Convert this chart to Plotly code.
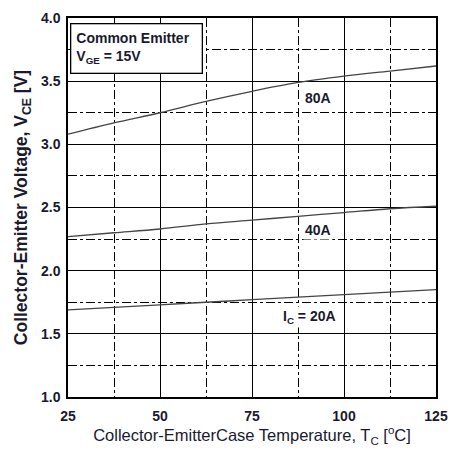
import plotly.graph_objects as go

temps = [25, 37.5, 50, 62.5, 75, 87.5, 100, 112.5, 125]
vce_80a = [3.08, 3.17, 3.25, 3.34, 3.42, 3.49, 3.54, 3.58, 3.62]
vce_40a = [2.27, 2.30, 2.33, 2.37, 2.40, 2.43, 2.46, 2.49, 2.51]
vce_20a = [1.69, 1.71, 1.73, 1.75, 1.77, 1.79, 1.81, 1.83, 1.85]

labels = ["80A", "40A", "I<sub>C</sub> = 20A"]
label_x = [93, 93, 90.5]
label_y = [3.37, 2.32, 1.63]

fig = go.Figure()
for ys in (vce_80a, vce_40a, vce_20a):
    fig.add_trace(go.Scatter(x=temps, y=ys, mode="lines",
                             line=dict(color="#444444", width=1.3, shape="spline"),
                             showlegend=False, hoverinfo="skip"))

for t, x, y in zip(labels, label_x, label_y):
    fig.add_annotation(x=x, y=y, text="<b>" + t + "</b>", showarrow=False,
                       font=dict(size=14, color="#1a1a2e", family="Liberation Sans, Arial"),
                       bgcolor="white", borderpad=1)

fig.add_annotation(xref="paper", yref="paper", x=0.006, y=0.988,
                   xanchor="left", yanchor="top", align="left", valign="middle",
                   width=120, height=38,
                   text="<b>Common Emitter</b><br><b>V<sub>GE</sub> = 15V</b>",
                   showarrow=False, bgcolor="white", bordercolor="black",
                   borderwidth=1.3, borderpad=5,
                   font=dict(size=14, color="#1a1a2e", family="Liberation Sans, Arial"))

axis_common = dict(showline=True, linecolor="black", linewidth=1.5, mirror=True,
                   showgrid=True, gridcolor="black", gridwidth=1.3,
                   ticks="", zeroline=False, automargin=False,
                   tickfont=dict(size=14, color="#1a1a2e", family="Liberation Sans, Arial", weight="bold"))

fig.update_xaxes(range=[25, 125], tickmode="array", tickvals=[25, 50, 75, 100, 125],
                 ticklabelstandoff=5,
                 minor=dict(tickvals=[37.5, 62.5, 87.5, 112.5], showgrid=True,
                            gridcolor="black", gridwidth=1.1, griddash="dashdot"),
                 title=dict(text="Collector-EmitterCase Temperature, T<sub>C</sub> [<sup>o</sup>C]",
                            font=dict(size=16.5, color="#1a1a2e", family="Liberation Sans, Arial"),
                            standoff=7),
                 **axis_common)
fig.update_yaxes(range=[1.0, 4.0], tickmode="array",
                 tickvals=[1.0, 1.5, 2.0, 2.5, 3.0, 3.5, 4.0],
                 ticktext=["1.0", "1.5", "2.0", "2.5", "3.0", "3.5", "4.0"],
                 ticklabelstandoff=3,
                 minor=dict(tickvals=[1.25, 1.75, 2.25, 2.75, 3.25, 3.75], showgrid=True,
                            gridcolor="black", gridwidth=1.1, griddash="dashdot"),
                 title=dict(text="<b>Collector-Emitter Voltage, V<sub>CE</sub> [V]</b>",
                            font=dict(size=17.5, color="#1a1a2e", family="Liberation Sans, Arial"),
                            standoff=9),
                 **axis_common)

fig.update_layout(width=453, height=450, margin=dict(l=68, r=17, t=18, b=53),
                  plot_bgcolor="white", paper_bgcolor="white",
                  font=dict(family="Liberation Sans, Arial"))

fig.write_html("out.html")
